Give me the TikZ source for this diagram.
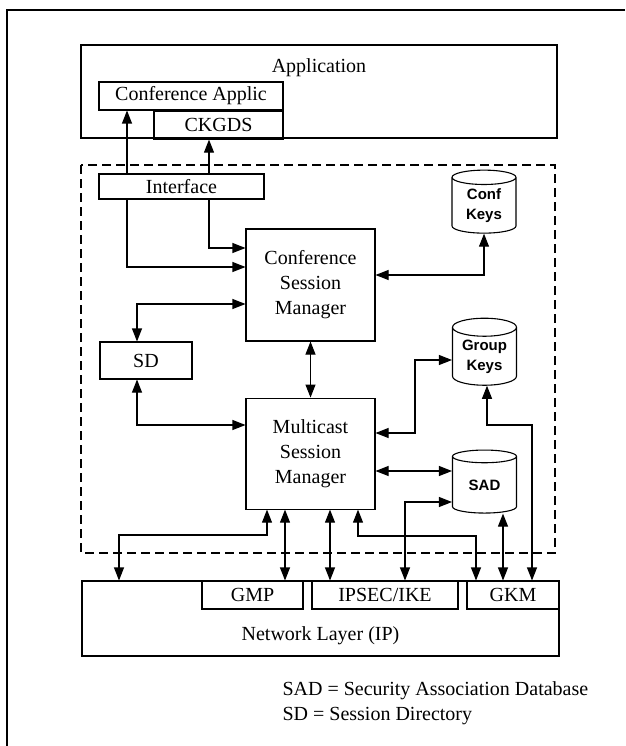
\documentclass[tikz,border=0pt]{standalone}
\usepackage{fontspec}
\setmainfont{Liberation Serif}
\newfontfamily\keyfont{Liberation Sans}
\usetikzlibrary{arrows.meta, positioning, shapes.geometric}

\begin{document}
\begin{tikzpicture}[
  x=1pt, y=-1pt, line width=1.1pt,
  font=\fontsize{20}{25}\selectfont,
  box/.style={draw, inner sep=0pt, align=center},
  keys/.style={draw, cylinder, shape border rotate=90, aspect=0.4,
               inner sep=0pt, minimum width=64pt, minimum height=63pt,
               align=center, font=\keyfont\bfseries\fontsize{15}{20}\selectfont},
  arr/.style={-{Triangle[length=13pt, width=10pt]}},
  dbl/.style={{Triangle[length=13pt, width=10pt]}-{Triangle[length=13pt, width=10pt]}},
  zone/.style={draw, dash pattern=on 9pt off 5pt}
]
  \useasboundingbox (0,0) rectangle (625,746);
  \draw (625,10) -| (7,746);

  % application layer
  \node[box, minimum width=476pt, text height=28pt, text depth=65pt] (app) at (319,91.5) {Application};
  \node[box, minimum width=184pt, minimum height=28pt] (capp) at (191,96) {Conference Applic};
  \node[box, minimum width=129pt, minimum height=28pt, below left=0pt of capp.south east] (ckgds) {CKGDS};

  % middleware
  \draw[zone] (81,165) rectangle (555,553);
  \node[box, minimum width=165pt, minimum height=25pt] (iface) at (181.5,186.5) {Interface};
  \node[box, minimum width=129pt, minimum height=112pt] (csm) at (310.5,285) {Conference\\Session\\Manager};
  \node[box, minimum width=129pt, minimum height=111pt, below=56pt of csm] (msm) {Multicast\\Session\\Manager};
  \node[box, minimum width=92pt, minimum height=37pt] (sd) at (146,360.5) {SD};
  \node[keys] (ckeys) at (484,205.5) {Conf\\Keys};
  \node[keys, minimum height=67pt] (gkeys) at (484.5,356.5) {Group\\Keys};
  \node[keys] (sad) at (484.5,485) {SAD};

  % network layer
  \node[box, minimum width=477pt, text height=59pt, text depth=16pt] (net) at (320.5,618.5) {Network Layer (IP)};
  \node[box, minimum width=101pt, minimum height=28pt] (gmp) at (252.5,595) {GMP};
  \node[box, minimum width=146pt, minimum height=28pt] (ipsec) at (385,595) {IPSEC/IKE};
  \node[box, minimum width=92pt, minimum height=28pt, below left=0pt of net.north east] (gkm) {GKM};

  \node[inner sep=0pt, anchor=north west, align=left] (legend) at (282,681)
    {SAD = Security Association Database\\SD = Session Directory};

  % connectors
  \draw[arr] (127,0 |- iface.north) -- (127,0 |- capp.south);
  \draw[arr] (209,0 |- iface.north) -- (209,0 |- ckgds.south);
  \draw[arr] (209,0 |- iface.south) |- (csm.west |- 0,248);
  \draw[arr] (127,0 |- iface.south) |- (csm.west |- 0,267);
  \draw[dbl] (137,0 |- sd.north) |- (csm.west |- 0,304);
  \draw[dbl] (137,0 |- sd.south) |- (msm.west |- 0,425);
  \draw[dbl] (csm.south) -- (msm.north);
  \draw[dbl] (ckeys.south) |- (csm.east |- 0,275);
  \draw[dbl] (msm.east |- 0,433) -| (415,360) -- (gkeys.west |- 0,360);
  \draw[dbl] (msm.east |- 0,471) -- (sad.west |- 0,471);
  \draw[dbl] (405,0 |- ipsec.north) |- (sad.west |- 0,502);
  \draw[dbl] (503,0 |- sad.south) -- (503,0 |- gkm.north);
  \draw[dbl] (487,0 |- gkeys.south) |- (532,425) -- (532,0 |- gkm.north);
  \draw[dbl] (267,0 |- msm.south) |- (119,535) -- (119,0 |- net.north);
  \draw[dbl] (285,0 |- msm.south) -- (285,0 |- gmp.north);
  \draw[dbl] (330,0 |- msm.south) -- (330,0 |- ipsec.north);
  \draw[dbl] (358,0 |- msm.south) |- (476,536) -- (476,0 |- gkm.north);
\end{tikzpicture}
\end{document}
